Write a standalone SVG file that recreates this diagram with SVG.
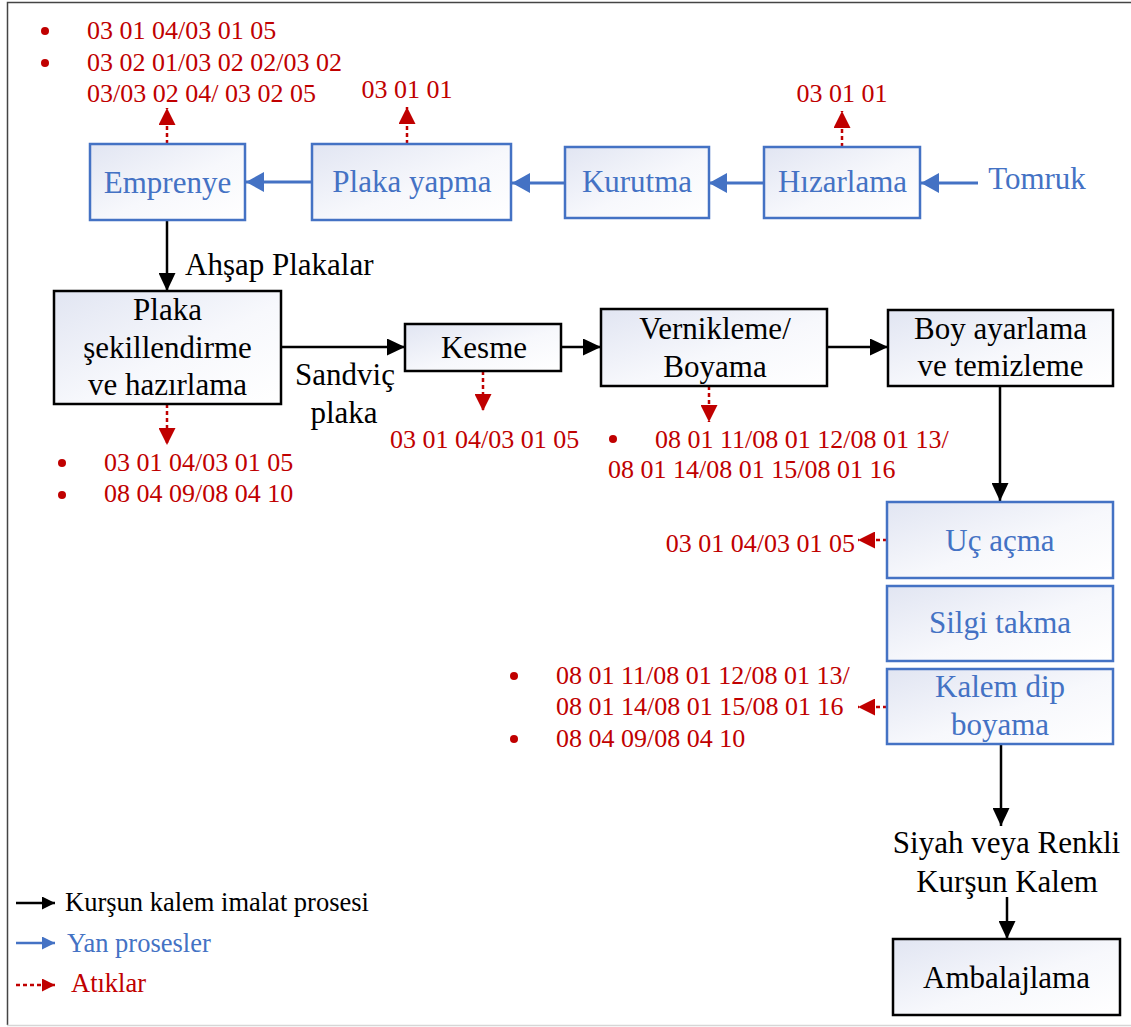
<svg xmlns="http://www.w3.org/2000/svg" width="1131" height="1027" viewBox="0 0 1131 1027">
  <style>
    text { font-family: "Liberation Serif", "Times New Roman", serif; }
    .lbl { font-size: 31px; text-anchor: middle; }
    .k { fill: #000; }
    .b { fill: #4472C4; }
    .w { font-size: 26px; fill: #C00000; }
    .leg { font-size: 26.5px; }
    .boxB { fill: url(#shade); stroke: #4472C4; stroke-width: 2.5; }
    .boxK { fill: url(#shade); stroke: #000; stroke-width: 2.5; }
    .cB { stroke: #4472C4; stroke-width: 3; fill: none; marker-end: url(#aB); }
    .cK { stroke: #000; stroke-width: 2.5; fill: none; marker-end: url(#aK); }
    .cR { stroke: #C00000; stroke-width: 2.5; stroke-dasharray: 4 3; fill: none; marker-end: url(#aR); }
    .sB { stroke: #4472C4; stroke-width: 2.5; fill: none; marker-end: url(#sB); }
    .sK { stroke: #000; stroke-width: 2.5; fill: none; marker-end: url(#sK); }
    .sR { stroke: #C00000; stroke-width: 2.5; stroke-dasharray: 4 3; fill: none; marker-end: url(#sR); }
    .dot { fill: #C00000; }
  </style>
  <defs>
    <linearGradient id="shade" x1="0" y1="0" x2="1" y2="1">
      <stop offset="0" stop-color="#E1E5F2"/>
      <stop offset="0.55" stop-color="#F7F8FC"/>
      <stop offset="1" stop-color="#FFFFFF"/>
    </linearGradient>
    <marker id="aB" markerUnits="userSpaceOnUse" markerWidth="18" markerHeight="20" refX="18" refY="10" orient="auto">
      <path d="M0,0 L18,10 L0,20 Z" fill="#4472C4"/>
    </marker>
    <marker id="aK" markerUnits="userSpaceOnUse" markerWidth="18" markerHeight="17" refX="18" refY="8.5" orient="auto">
      <path d="M0,0 L18,8.5 L0,17 Z" fill="#000"/>
    </marker>
    <marker id="aR" markerUnits="userSpaceOnUse" markerWidth="17" markerHeight="17" refX="17" refY="8.5" orient="auto">
      <path d="M0,0 L17,8.5 L0,17 Z" fill="#C00000"/>
    </marker>
    <marker id="sB" markerUnits="userSpaceOnUse" markerWidth="13" markerHeight="13" refX="13" refY="6.5" orient="auto">
      <path d="M0,0 L13,6.5 L0,13 Z" fill="#4472C4"/>
    </marker>
    <marker id="sK" markerUnits="userSpaceOnUse" markerWidth="13" markerHeight="13" refX="13" refY="6.5" orient="auto">
      <path d="M0,0 L13,6.5 L0,13 Z" fill="#000"/>
    </marker>
    <marker id="sR" markerUnits="userSpaceOnUse" markerWidth="13" markerHeight="13" refX="13" refY="6.5" orient="auto">
      <path d="M0,0 L13,6.5 L0,13 Z" fill="#C00000"/>
    </marker>
  </defs>

  <rect width="1131" height="1027" fill="#fff"/>
  <!-- frame -->
  <path d="M7.5,1025 V2.5 H1131" fill="none" stroke="#444" stroke-width="1.5"/>
  <line x1="7" y1="1025.5" x2="1131" y2="1025.5" stroke="#d6d6d6" stroke-width="1.5"/>

  <!-- connectors -->
  <g id="connectors">
    <!-- side processes (blue) -->
    <line class="cB" x1="978" y1="183" x2="921" y2="183"/>
    <line class="cB" x1="764" y1="183" x2="709" y2="183"/>
    <line class="cB" x1="565" y1="183" x2="512" y2="183"/>
    <line class="cB" x1="312" y1="182" x2="246" y2="182"/>
    <!-- main process (black) -->
    <line class="cK" x1="167" y1="220" x2="167" y2="291"/>
    <line class="cK" x1="281" y1="347" x2="405" y2="347"/>
    <line class="cK" x1="561" y1="347" x2="601" y2="347"/>
    <line class="cK" x1="827" y1="347" x2="888" y2="347"/>
    <line class="cK" x1="1000" y1="386" x2="1000" y2="501"/>
    <line class="cK" x1="1001" y1="744" x2="1001" y2="826"/>
    <line class="cK" x1="1007" y1="897" x2="1007" y2="939"/>
    <!-- waste (red dashed) -->
    <line class="cR" x1="167" y1="144" x2="167" y2="108"/>
    <line class="cR" x1="407" y1="144" x2="407" y2="107"/>
    <line class="cR" x1="842" y1="147" x2="842" y2="111"/>
    <line class="cR" x1="167" y1="404" x2="167" y2="445"/>
    <line class="cR" x1="483" y1="371" x2="483" y2="411"/>
    <line class="cR" x1="709" y1="386" x2="709" y2="422"/>
    <line class="cR" x1="887" y1="540" x2="858" y2="540"/>
    <line class="cR" x1="887" y1="707" x2="858" y2="707"/>
  </g>

  <!-- nodes -->
  <g id="emprenye">
    <rect class="boxB" x="90" y="144" width="155" height="76"/>
    <text class="lbl b" x="167.5" y="193">Emprenye</text>
  </g>
  <g id="plaka-yapma">
    <rect class="boxB" x="312" y="144" width="199" height="76"/>
    <text class="lbl b" x="412" y="192">Plaka yapma</text>
  </g>
  <g id="kurutma">
    <rect class="boxB" x="565" y="147" width="144" height="71"/>
    <text class="lbl b" x="637" y="192">Kurutma</text>
  </g>
  <g id="hizarlama">
    <rect class="boxB" x="764" y="147" width="156" height="71"/>
    <text class="lbl b" x="842.5" y="192">Hızarlama</text>
  </g>
  <g id="tomruk">
    <text class="lbl b" x="1037" y="189">Tomruk</text>
  </g>
  <g id="plaka-sekillendirme">
    <rect class="boxK" x="54" y="291" width="227" height="113"/>
    <text class="lbl k" x="167.5" y="320">Plaka</text>
    <text class="lbl k" x="167.5" y="358">şekillendirme</text>
    <text class="lbl k" x="167.5" y="395">ve hazırlama</text>
  </g>
  <g id="kesme">
    <rect class="boxK" x="405" y="324" width="156" height="47"/>
    <text class="lbl k" x="484" y="358">Kesme</text>
  </g>
  <g id="vernikleme">
    <rect class="boxK" x="601" y="309" width="226" height="77"/>
    <text class="lbl k" x="715" y="339">Vernikleme/</text>
    <text class="lbl k" x="715" y="377">Boyama</text>
  </g>
  <g id="boy-ayarlama">
    <rect class="boxK" x="888" y="310" width="225" height="76"/>
    <text class="lbl k" x="1000.5" y="339">Boy ayarlama</text>
    <text class="lbl k" x="1000.5" y="376">ve temizleme</text>
  </g>
  <g id="uc-acma">
    <rect class="boxB" x="887" y="502" width="226" height="76"/>
    <text class="lbl b" x="1000" y="551">Uç açma</text>
  </g>
  <g id="silgi-takma">
    <rect class="boxB" x="887" y="586" width="226" height="75"/>
    <text class="lbl b" x="1000" y="633">Silgi takma</text>
  </g>
  <g id="kalem-dip-boyama">
    <rect class="boxB" x="887" y="669" width="226" height="75"/>
    <text class="lbl b" x="1000" y="697">Kalem dip</text>
    <text class="lbl b" x="1000" y="735">boyama</text>
  </g>
  <g id="urun">
    <text class="lbl k" x="1006.5" y="853">Siyah veya Renkli</text>
    <text class="lbl k" x="1007" y="892">Kurşun Kalem</text>
  </g>
  <g id="ambalajlama">
    <rect class="boxK" x="893" y="939" width="227" height="76"/>
    <text class="lbl k" x="1006.5" y="988">Ambalajlama</text>
  </g>

  <!-- flow labels -->
  <g id="flow-labels">
    <text class="lbl k" x="185" y="275" style="text-anchor:start">Ahşap Plakalar</text>
    <text class="lbl k" x="345" y="385">Sandviç</text>
    <text class="lbl k" x="344" y="423">plaka</text>
  </g>

  <!-- waste codes -->
  <g id="waste-codes">
    <circle class="dot" cx="45" cy="31" r="4"/>
    <text class="w" x="87" y="39">03 01 04/03 01 05</text>
    <circle class="dot" cx="45" cy="63" r="4"/>
    <text class="w" x="87" y="71">03 02 01/03 02 02/03 02</text>
    <text class="w" x="87" y="102">03/03 02 04/ 03 02 05</text>

    <text class="w" x="407" y="98" style="text-anchor:middle">03 01 01</text>
    <text class="w" x="842" y="102" style="text-anchor:middle">03 01 01</text>

    <circle class="dot" cx="62" cy="463" r="4"/>
    <text class="w" x="104" y="471">03 01 04/03 01 05</text>
    <circle class="dot" cx="62" cy="495" r="4"/>
    <text class="w" x="104" y="502">08 04 09/08 04 10</text>

    <text class="w" x="390" y="448">03 01 04/03 01 05</text>

    <circle class="dot" cx="613" cy="439" r="4"/>
    <text class="w" x="655" y="448">08 01 11/08 01 12/08 01 13/</text>
    <text class="w" x="608" y="478">08 01 14/08 01 15/08 01 16</text>

    <text class="w" x="855" y="552" style="text-anchor:end">03 01 04/03 01 05</text>

    <circle class="dot" cx="514" cy="676" r="4"/>
    <text class="w" x="556" y="684">08 01 11/08 01 12/08 01 13/</text>
    <text class="w" x="556" y="715">08 01 14/08 01 15/08 01 16</text>
    <circle class="dot" cx="514" cy="739" r="4"/>
    <text class="w" x="556" y="747">08 04 09/08 04 10</text>
  </g>

  <!-- legend -->
  <g id="legend">
    <line class="sK" x1="16" y1="903" x2="55" y2="903"/>
    <text class="leg k" x="65" y="911">Kurşun kalem imalat prosesi</text>
    <line class="sB" x1="16" y1="943" x2="55" y2="943"/>
    <text class="leg b" x="67" y="952">Yan prosesler</text>
    <line class="sR" x1="16" y1="985" x2="55" y2="985"/>
    <text class="leg" x="71" y="992" fill="#C00000">Atıklar</text>
  </g>
</svg>
